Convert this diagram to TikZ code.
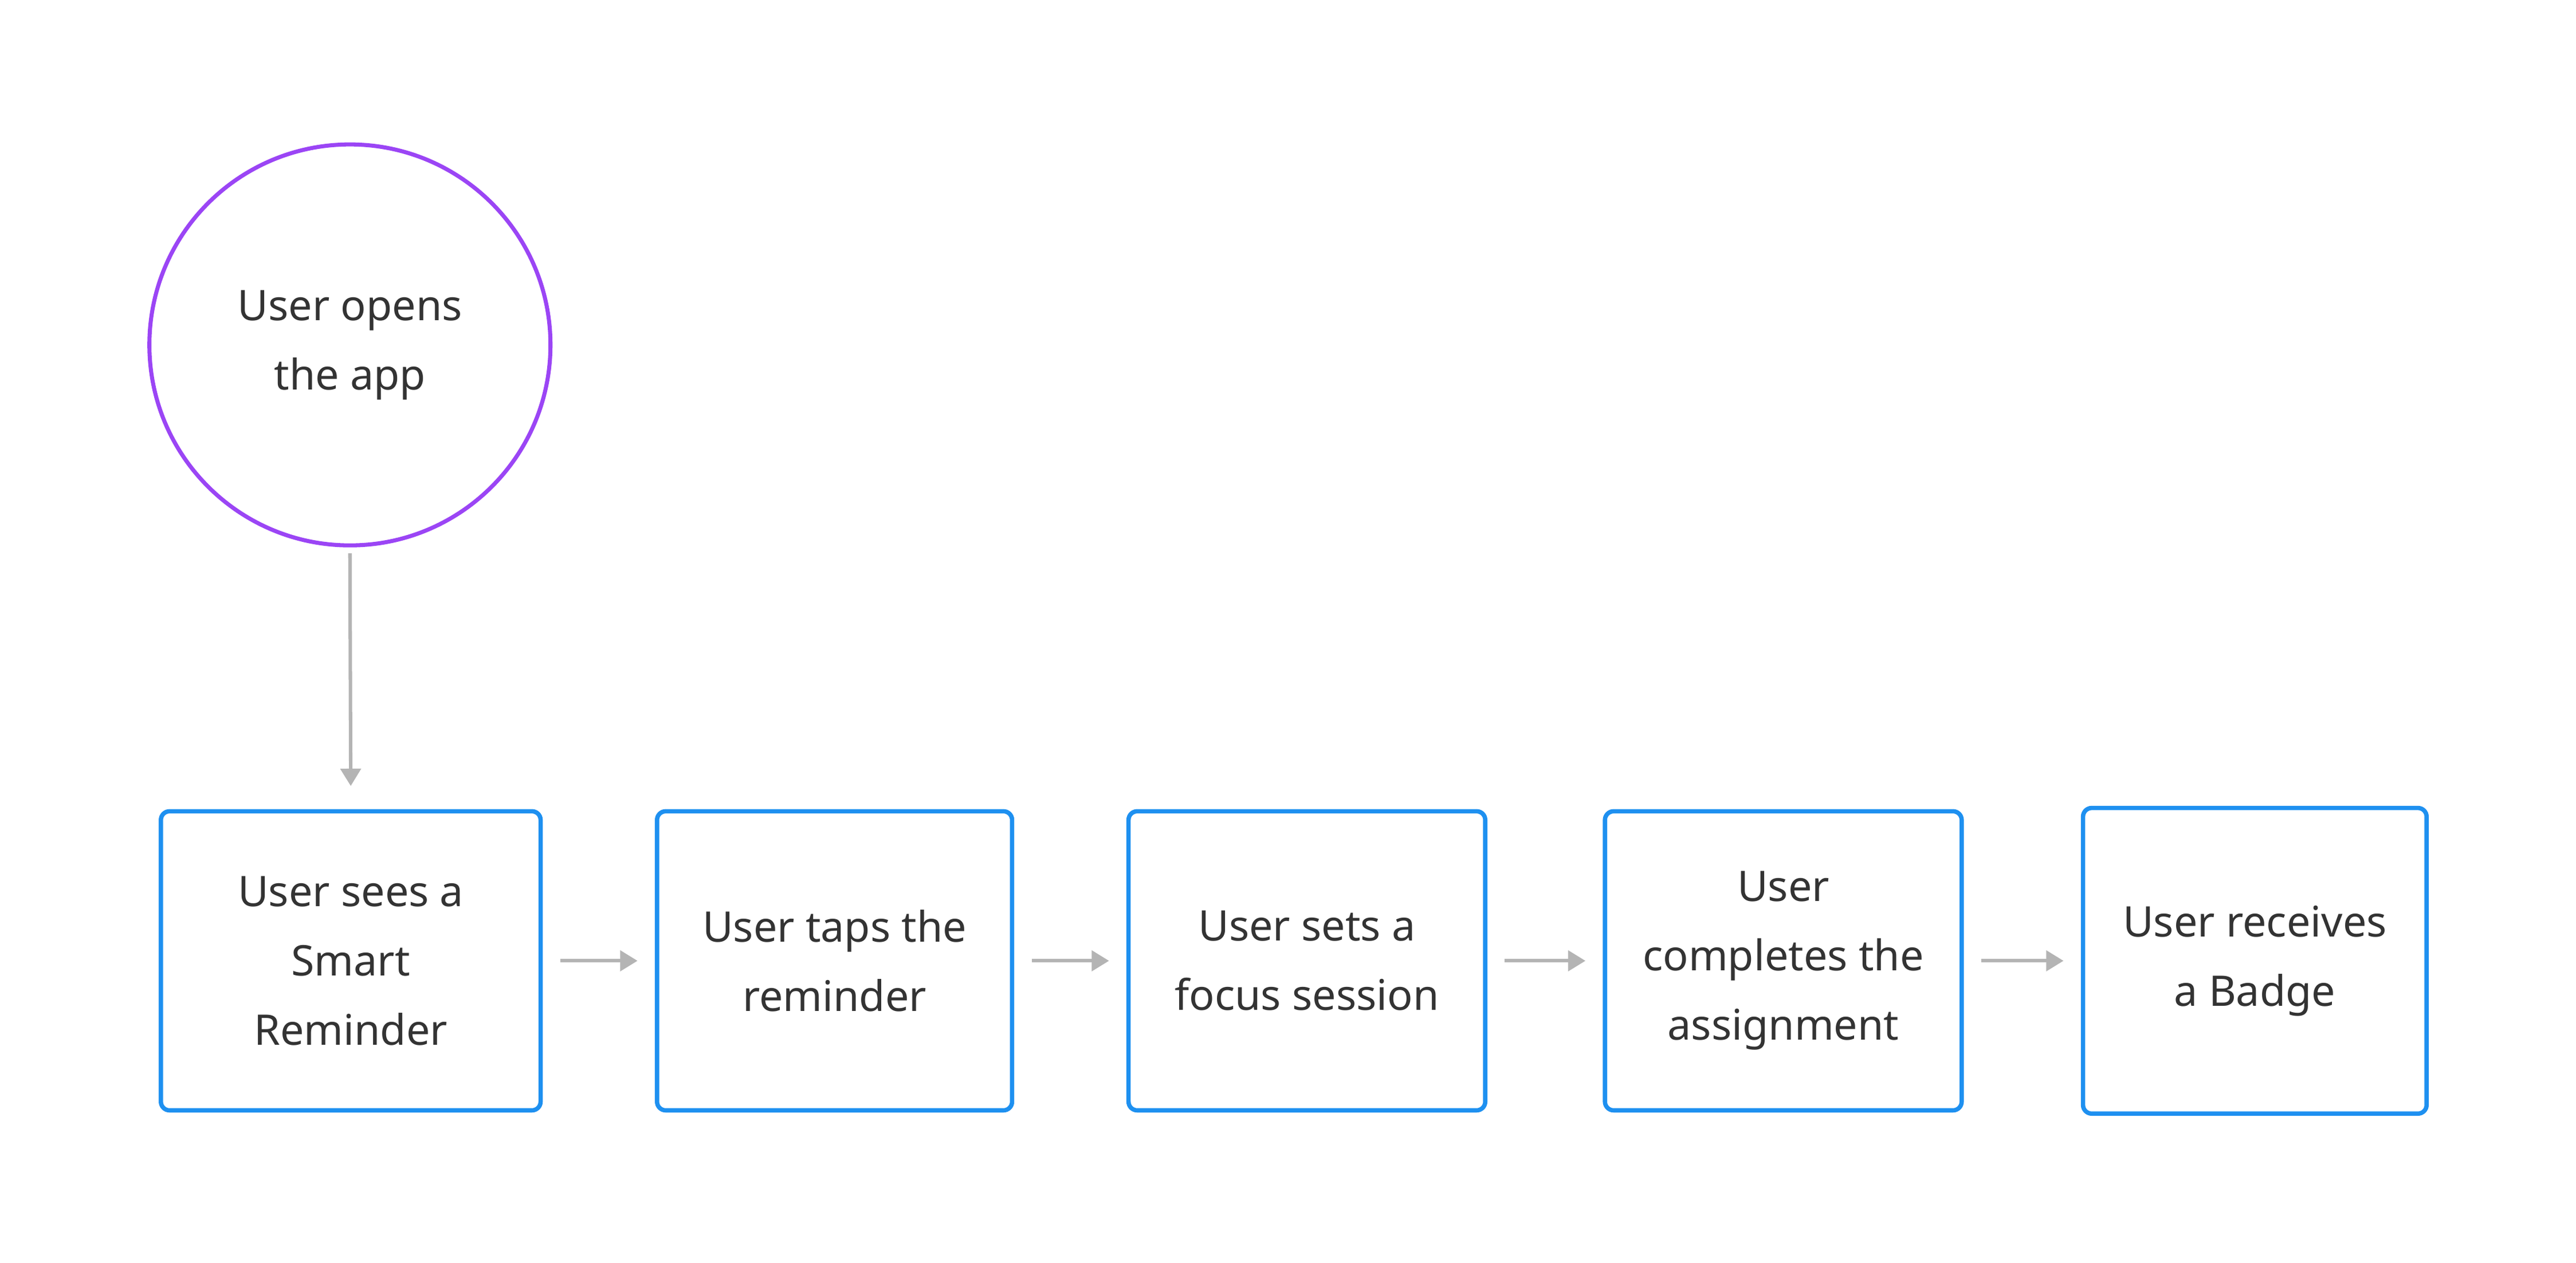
\documentclass[tikz,border=0pt]{standalone}
\usepackage{fontspec}
\setmainfont{Noto Sans}
\usetikzlibrary{arrows.meta}
\definecolor{boxblue}{HTML}{1E90F0}
\definecolor{startpurple}{HTML}{9B45F5}
\definecolor{linegray}{HTML}{B4B4B4}
\definecolor{textgray}{HTML}{333333}

\begin{document}
\begin{tikzpicture}[x=0.01cm,y=-0.01cm]
\useasboundingbox (0,0) rectangle (1568,769);
\begin{scope}[every node/.style={thick,align=center,text=textgray,
      font=\fontsize{7.3}{12}\selectfont\bfseries}]
    \node[circle,draw=startpurple,line width=0.7pt,minimum size=2.44cm] (open) at (213,210) {User opens\\the app};
    \node[draw=boxblue,line width=0.75pt,rounded corners=1.5pt,minimum width=2.31cm,minimum height=1.82cm] (sees) at (213.5,585) {User sees a\\Smart\\Reminder};
    \node[draw=boxblue,line width=0.75pt,rounded corners=1.5pt,minimum width=2.16cm,minimum height=1.82cm] (taps) at (508,585) {User taps the\\reminder};
    \node[draw=boxblue,line width=0.75pt,rounded corners=1.5pt,minimum width=2.17cm,minimum height=1.82cm] (sets) at (795.5,585) {User sets a\\focus session};
    \node[draw=boxblue,line width=0.75pt,rounded corners=1.5pt,minimum width=2.17cm,minimum height=1.82cm] (completes) at (1085.5,585) {User\\completes the\\assignment};
    \node[draw=boxblue,line width=0.75pt,rounded corners=1.5pt,minimum width=2.09cm,minimum height=1.86cm] (badge) at (1372.5,585) {User receives\\a Badge};
\end{scope}

\begin{scope}[>={Triangle[length=3pt,width=3.5pt]},
              every edge/.style={draw=linegray,line width=0.6pt}]
    \path [->] ([yshift=-1]open.south) edge ([yshift=4]sees.north);
    \path [->] ([xshift=3]sees.east) edge ([xshift=-3]taps.west);
    \path [->] ([xshift=3]taps.east) edge ([xshift=-3]sets.west);
    \path [->] ([xshift=3]sets.east) edge ([xshift=-3]completes.west);
    \path [->] ([xshift=3]completes.east) edge ([xshift=-3]badge.west);
\end{scope}
\end{tikzpicture}
\end{document}
